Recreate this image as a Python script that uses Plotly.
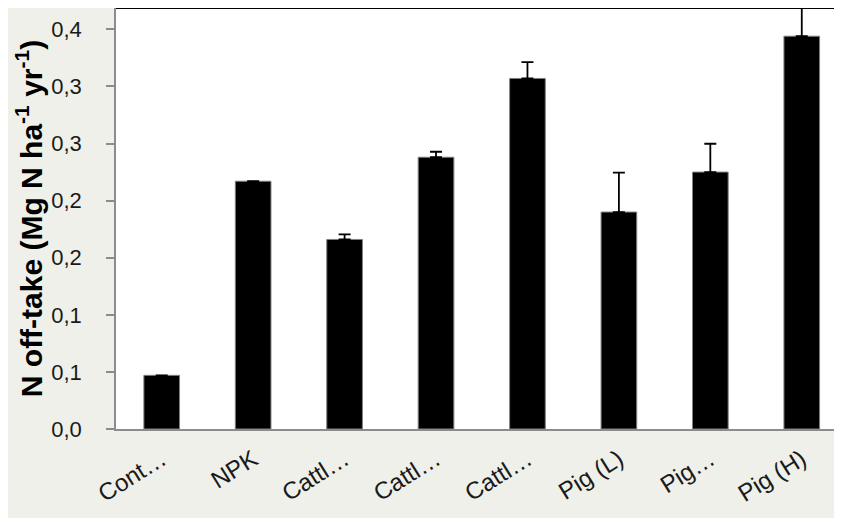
import plotly.graph_objects as go

categories = ["Cont…", "NPK", "Cattl…", "Cattl…", "Cattl…", "Pig (L)", "Pig…", "Pig (H)"]
values = [0.047, 0.217, 0.166, 0.238, 0.307, 0.190, 0.225, 0.344]
errors_plus = [None, None, 0.0045, 0.0048, 0.0143, 0.0346, 0.0248, 0.0249]
y_tickvals = [0.0, 0.05, 0.10, 0.15, 0.20, 0.25, 0.30, 0.35]
y_ticktext = ["0,0", "0,1", "0,1", "0,2", "0,2", "0,3", "0,3", "0,4"]

positions = list(range(len(categories)))

fig = go.Figure()
fig.add_trace(go.Bar(
    x=positions,
    y=values,
    marker=dict(color="black", line=dict(color="#808080", width=1)),
    error_y=dict(type="data", symmetric=False, array=errors_plus,
                 arrayminus=[0] * len(values), color="black",
                 thickness=1.8, width=6),
    width=0.39,
))

font_family = "Liberation Sans, Arial, sans-serif"

fig.update_layout(
    width=834, height=510,
    margin=dict(l=108, r=0, t=0, b=89),
    paper_bgcolor="#eef0e9",
    plot_bgcolor="white",
    showlegend=False,
    font=dict(family=font_family, color="#1a1a1a"),
    xaxis=dict(
        tickmode="array", tickvals=positions, ticktext=categories,
        range=[-0.5, 7.44], tickangle=-32,
        tickfont=dict(size=24, family=font_family, color="#1a1a1a"),
        showline=True, linecolor="#8c8c8c", linewidth=2,
        ticks="outside", ticklen=5, tickcolor="rgba(0,0,0,0)",
        showgrid=False, zeroline=False, automargin=False,
    ),
    yaxis=dict(
        range=[0, 0.3687],
        tickmode="array", tickvals=y_tickvals, ticktext=y_ticktext,
        tickfont=dict(size=22, family=font_family, color="#1a1a1a"),
        ticks="outside", ticklen=8, tickcolor="#8c8c8c", tickwidth=1.5,
        ticklabelstandoff=20,
        showline=True, linecolor="#8c8c8c", linewidth=1.5,
        showgrid=False, zeroline=False, automargin=False,
        title=dict(
            text="<b>N off-take (Mg N ha<sup>-1</sup> yr<sup>-1</sup>)</b>",
            font=dict(size=30, family=font_family, color="black"),
            standoff=0,
        ),
    ),
    shapes=[dict(type="line", xref="paper", yref="paper", x0=0, x1=1, y0=1, y1=1,
                 line=dict(color="black", width=2))],
)

fig.write_html("out.html")
